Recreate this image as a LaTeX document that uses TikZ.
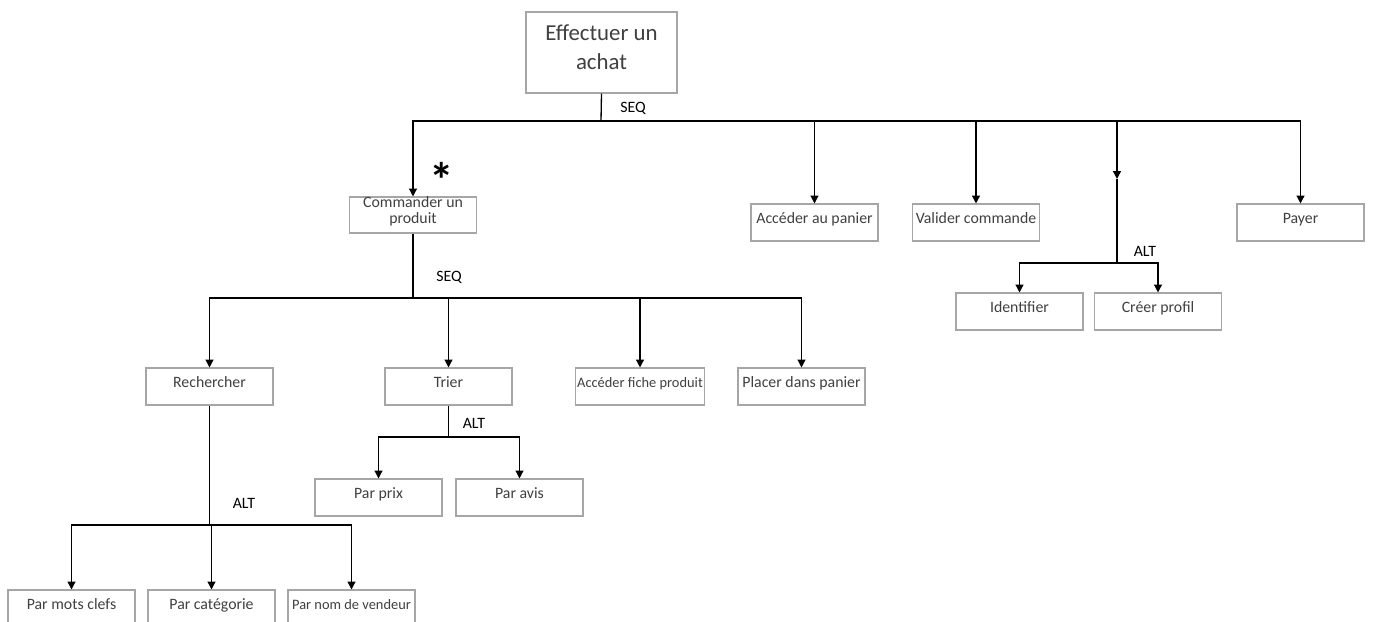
\documentclass[tikz,border=0pt]{standalone}
\usepackage{fontspec}
\setmainfont{Carlito}
\usetikzlibrary{arrows.meta,positioning}
\definecolor{boxGray}{HTML}{A6A6A6}
\definecolor{textGray}{HTML}{404040}
% raised two-line text that keeps its natural size
\newcommand{\liftText}[2]{\raisebox{#1}[\height][\depth]{\begin{tabular}{@{}c@{}}#2\end{tabular}}}

\begin{document}
\begin{tikzpicture}[x=0.02cm,y=-0.02cm,
    every node/.style={font=\fontsize{9}{9.6}\selectfont},
    task/.style={draw=boxGray,line width=0.6pt,text=textGray,minimum width=2.54cm,minimum height=0.74cm,inner sep=1pt,text height=0.22cm,text depth=0.2cm},
    small/.style={font=\fontsize{8.2}{9}\selectfont},
    link/.style={line width=0.75pt},
    arr/.style={link,-{Triangle[width=4.5pt,length=4.5pt]}},
    op/.style={inner sep=0pt}]
    \useasboundingbox[fill=white] (0,0) rectangle (1373,622);
    \clip (0,0) rectangle (1373,622);
    % root
    \node[task,minimum width=3.02cm,minimum height=1.62cm,text height={},text depth={},font=\fontsize{13}{16.5}\selectfont] (achat) at (601.5,52.5) {\liftText{0.07cm}{Effectuer un\\achat}};
    % first level
    \node[task,text height={},text depth={},minimum height=0.72cm,inner sep=0pt,font=\fontsize{9}{8.6}\selectfont] (cmd) at (413,215) {\liftText{0.05cm}{Commander un\\produit}};
    \node[task] (panier) at (814.5,222.5) {Accéder au panier};
    \node[task] (valider) at (976,222.5) {Valider commande};
    \node[task] (payer) at (1300.5,222.5) {Payer};
    \node[task] (ident) at (1019.5,311.5) {Identifier};
    \node[task] (profil) at (1158,311.5) {Créer profil};
    % second level
    \node[task] (rech) at (209.5,386.5) {Rechercher};
    \node[task] (trier) at (448.5,386.5) {Trier};
    \node[task,small] (fiche) at (640,386.5) {Accéder fiche produit};
    \node[task] (placer) at (801.5,386.5) {Placer dans panier};
    \node[task] (prix) at (378.5,497.5) {Par prix};
    \node[task] (avis) at (519.5,497.5) {Par avis};
    \node[task] (mots) at (71.5,608.5) {Par mots clefs};
    \node[task] (categ) at (211.5,608.5) {Par catégorie};
    \node[task,small] (vendeur) at (351.5,608.5) {Par nom de vendeur};
    % operators
    \node[op] (seqA-l) at (633,108) {SEQ};
    \node[op] (altB-l) at (1145,251) {ALT};
    \node[op] (seqB-l) at (449,277) {SEQ};
    \node[op] (altC-l) at (474,423) {ALT};
    \node[op] (altD-l) at (244,503) {ALT};
    \node[op,anchor=base,text height=0pt,text depth=0pt,font=\bfseries\fontsize{28}{28}\selectfont] (star) at (442,197) {*};
    % junctions
    \coordinate (seqA) at (601,121);
    \coordinate (midB) at (1117,179);
    \coordinate (altB) at (1117,263);
    \coordinate (seqB) at (413,298);
    \coordinate (altC) at (448.5,437);
    \coordinate (altD) at (209.5,525);
    % connectors
    \draw[link] (achat.south) -- (seqA);
    \draw[arr] (seqA) -| (cmd.north);
    \draw[arr] (seqA) -| (panier.north);
    \draw[arr] (seqA) -| (valider.north);
    \draw[arr] (seqA) -| (payer.north);
    \draw[arr] (seqA) -| (midB);
    \draw[link] (midB) -- (altB);
    \draw[arr] (altB) -| (ident.north);
    \draw[arr] (altB) -| (profil.north);
    \draw[link] (cmd.south) -- (seqB);
    \draw[arr] (seqB) -| (rech.north);
    \draw[arr] (seqB) -| (trier.north);
    \draw[arr] (seqB) -| (fiche.north);
    \draw[arr] (seqB) -| (placer.north);
    \draw[link] (trier.south) -- (altC);
    \draw[arr] (altC) -| (prix.north);
    \draw[arr] (altC) -| (avis.north);
    \draw[link] (rech.south) -- (altD);
    \draw[arr] (altD) -| (mots.north);
    \draw[arr] (altD) -| (categ.north);
    \draw[arr] (altD) -| (vendeur.north);
\end{tikzpicture}
\end{document}
